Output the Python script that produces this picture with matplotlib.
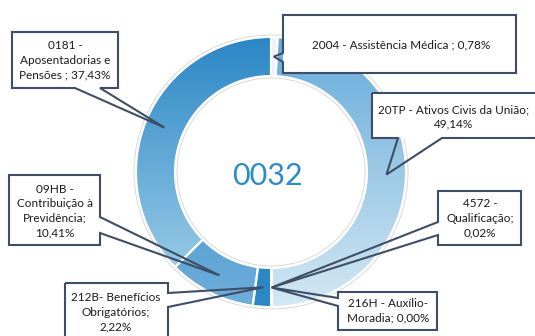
import matplotlib.pyplot as plt
import numpy as np
from matplotlib.colors import LinearSegmentedColormap
from matplotlib.patches import Rectangle, Polygon, Circle

plt.rcParams['font.family'] = ['Lato', 'DejaVu Sans']

# Data: share of each budget action in program 0032 (clockwise from top)
codes = ["2004", "20TP", "4572", "216H", "212B", "09HB", "0181"]
shares = [0.78, 49.14, 0.02, 0.00, 2.22, 10.41, 37.43]
labels = [
    "2004 - Assistência Médica ; 0,78%",
    "20TP - Ativos Civis da União;\n49,14%",
    "4572 -\nQualificação;\n0,02%",
    "216H - Auxílio-\nMoradia; 0,00%",
    "212B- Benefícios\nObrigatórios;\n2,22%",
    "09HB -\nContribuição à\nPrevidência;\n10,41%",
    "0181 -\nAposentadorias e\nPensões ; 37,43%",
]
center_text = "0032"

# gradient colours per slice (top -> bottom)
top_colors = ["#EDF4FA", "#66ABD9", "#2C87C5", "#2C87C5", "#2C87C5", "#5DA3D5", "#2A86C5"]
bottom_colors = ["#EDF4FA", "#D3E8F4", "#2C87C5", "#2C87C5", "#2C87C5", "#6EAEDA", "#96C9E6"]

# callout layout in pixel coords: box (x0, y0, x1, y1), side, attach a, attach b, text centre
callouts = [
    ((283, 15, 516, 73), "left", 53, 62, (401, 45)),
    ((372, 93, 541, 138), "bottom", 398, 442, (454, 117)),
    ((438, 191, 521, 245), "left", 222, 235, (480, 218)),
    ((338, 292, 437, 330), "left", 298, 306, (388, 311)),
    ((65, 283, 168, 345), "right", 293, 307, (116, 312)),
    ((9, 175, 100, 245), "right", 217, 233, (55, 211)),
    ((12, 32, 118, 88), "bottom", 75, 100, (65, 60)),
]

fig = plt.figure(figsize=(5.35, 3.36), dpi=100)
ax = fig.add_axes([0, 0, 1, 1])

cx, cy, r_out, r_in = 271, 172, 135, 96

# y axis is inverted below, so counterclock=True draws clockwise on screen
wedges, _ = ax.pie(shares, radius=r_out, center=(cx, cy), startangle=-90,
                   counterclock=True, frame=True,
                   wedgeprops=dict(width=r_out - r_in, edgecolor="white", linewidth=1.5))

grad = np.linspace(0, 1, 256).reshape(-1, 1)
for w, s, c0, c1 in zip(wedges, shares, top_colors, bottom_colors):
    w.set_facecolor("none")
    w.set_zorder(2)
    if s == 0:
        continue
    ext = w.get_path().get_extents()
    cmap = LinearSegmentedColormap.from_list("", [c0, c1])
    im = ax.imshow(grad, cmap=cmap, extent=(ext.x0, ext.x1, ext.y1, ext.y0),
                   aspect="auto", interpolation="bicubic", zorder=1)
    im.set_clip_path(w)

# faint outline around the ring
ax.add_patch(Circle((cx, cy), r_out + 2, fill=False, ec="#D4D4D4", lw=0.6, zorder=2))
ax.add_patch(Circle((cx, cy), r_in - 2, fill=False, ec="#D4D4D4", lw=0.6, zorder=2))

ax.text(cx - 4, cy + 4, center_text, ha="center", va="center", fontsize=22, color="#2E8BCA")

edge = "#3F4E66"
r_mid = (r_out + r_in) / 2
for w, text, (box, side, a, b, txy) in zip(wedges, labels, callouts):
    th = np.deg2rad((w.theta1 + w.theta2) / 2)
    tip = (cx + r_mid * np.cos(th), cy + r_mid * np.sin(th))
    x0, y0, x1, y1 = box
    lo, hi = min(a, b), max(a, b)
    ax.add_patch(Rectangle((x0, y0), x1 - x0, y1 - y0, fc="white", ec="none", zorder=3))
    if side == "top":
        pts = [(x0, y0), (lo, y0), tip, (hi, y0), (x1, y0), (x1, y1), (x0, y1)]
    elif side == "right":
        pts = [(x0, y0), (x1, y0), (x1, lo), tip, (x1, hi), (x1, y1), (x0, y1)]
    elif side == "bottom":
        pts = [(x0, y0), (x1, y0), (x1, y1), (hi, y1), tip, (lo, y1), (x0, y1)]
    else:
        pts = [(x0, y0), (x1, y0), (x1, y1), (x0, y1), (x0, hi), tip, (x0, lo)]
    ax.add_patch(Polygon(pts, closed=True, fill=False, ec=edge, lw=1.5,
                         joinstyle="miter", zorder=4))
    ax.text(txy[0], txy[1], text, ha="center", va="center", fontsize=8.5,
            color="#1A1A1A", linespacing=1.4, zorder=5)

ax.set_xlim(0, 535)
ax.set_ylim(336, 0)
ax.set_aspect("equal")
ax.axis("off")

fig.savefig("out.png", dpi=100)
